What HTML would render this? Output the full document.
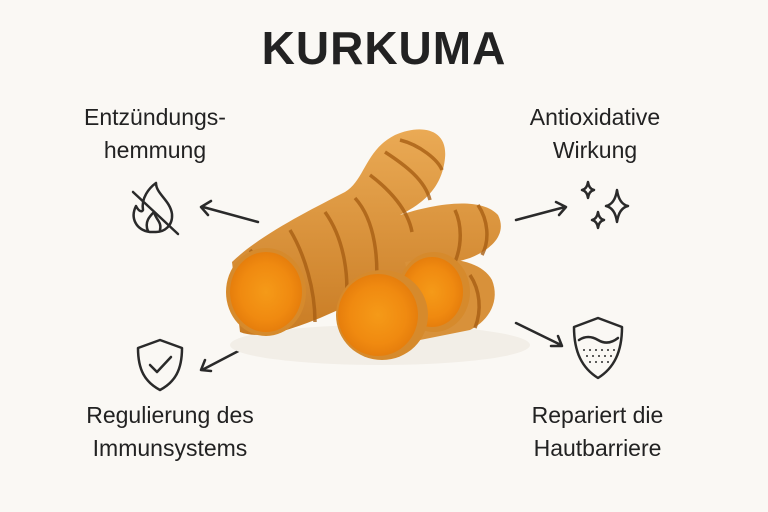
<!DOCTYPE html>
<html><head><meta charset="utf-8"><style>
body{margin:0;width:768px;height:512px;background:#faf8f4;overflow:hidden;font-family:"Liberation Sans",sans-serif;color:#222}
.t{position:absolute;text-align:center;font-size:23px;line-height:33px;color:#222}
</style></head><body>
<div class="t" style="left:184px;top:18px;width:400px;font-size:46px;font-weight:bold;line-height:60px;letter-spacing:1px">KURKUMA</div>
<div class="t" style="left:40px;top:101px;width:230px">Entzündungs-<br>hemmung</div>
<div class="t" style="left:480px;top:101px;width:230px">Antioxidative<br>Wirkung</div>
<div class="t" style="left:40px;top:399px;width:260px">Regulierung des<br>Immunsystems</div>
<div class="t" style="left:480px;top:399px;width:235px">Repariert die<br>Hautbarriere</div>
<svg width="768" height="512" style="position:absolute;left:0;top:0">
<defs>
<linearGradient id="sk" x1="0" y1="0" x2="0" y2="1"><stop offset="0" stop-color="#eaaa55"/><stop offset="1" stop-color="#c97c24"/></linearGradient>
<radialGradient id="cut"><stop offset="0" stop-color="#f59a18"/><stop offset="0.7" stop-color="#f08a10"/><stop offset="1" stop-color="#e67e0c"/></radialGradient>
</defs>
<g stroke="#2a2a2a" stroke-width="2.5" fill="none" stroke-linecap="round" stroke-linejoin="round">
<path d="M258 222 L203 207 M211 201 L201 207 L208 215"/>
<path d="M516 220 L565 207 M556 202 L566 207 L559 215"/>
<path d="M248 346 L202 370 M205 360 L201 370 L211 371"/>
<path d="M516 323 L561 345 M551 346 L562 346 L558 336"/>
<path d="M150 232 C136 230 130 218 136 206 C139 212 142 212 143 210 C141 198 149 188 156 183 C156 194 170 200 172 214 C173 226 164 232 156 232 Z"/>
<path d="M148 231 C144 222 150 216 154 212 C156 220 162 222 160 230"/>
<path d="M133 192 L178 234"/>
<path d="M617 190 Q619 204 628 206 Q619 208 617 222 Q615 208 606 206 Q615 204 617 190 Z"/>
<path d="M588 182 Q589 189 594 190 Q589 191 588 198 Q587 191 582 190 Q587 189 588 182 Z"/>
<path d="M598 212 Q599 219 604 220 Q599 221 598 228 Q597 221 592 220 Q597 219 598 212 Z"/>
<path d="M160 340 L182 348 C182 370 175 382 160 390 C145 382 138 370 138 348 Z"/>
<path d="M150 365 L157 372 L171 357"/>
<path d="M598 318 L622 327 C622 352 614 368 598 378 C582 368 574 352 574 327 Z"/>
<path d="M579 340 Q588 334 598 340 Q608 346 618 338"/>
</g>
<g fill="#2a2a2a">
<circle cx="584" cy="350" r="1"/><circle cx="590" cy="350" r="1"/><circle cx="596" cy="350" r="1"/><circle cx="602" cy="350" r="1"/><circle cx="608" cy="350" r="1"/><circle cx="614" cy="350" r="1"/>
<circle cx="587" cy="356" r="1"/><circle cx="593" cy="356" r="1"/><circle cx="599" cy="356" r="1"/><circle cx="605" cy="356" r="1"/><circle cx="611" cy="356" r="1"/>
<circle cx="590" cy="362" r="1"/><circle cx="596" cy="362" r="1"/><circle cx="602" cy="362" r="1"/><circle cx="608" cy="362" r="1"/>
</g>
<ellipse cx="380" cy="345" rx="150" ry="20" fill="#f2eee7"/>
<path d="M232 262 C260 235 310 210 345 192 C365 180 365 150 395 135 C420 124 448 128 445 158 C442 190 420 205 400 215 C430 205 480 195 498 215 C508 235 490 250 470 258 L430 270 C400 285 360 300 320 318 C290 330 260 340 240 332 Z" fill="url(#sk)"/>
<path d="M405 262 C440 255 480 258 492 280 C500 300 490 320 470 330 L420 340 Z" fill="#d8913a"/>
<g stroke="#a85f14" stroke-width="3.5" fill="none" opacity="0.8">
<path d="M290 230 C305 255 315 290 315 322"/>
<path d="M325 212 C345 240 350 280 345 310"/>
<path d="M355 198 C375 220 380 260 375 300"/>
<path d="M370 175 C390 190 408 210 412 232"/>
<path d="M385 152 C405 165 425 180 430 200"/>
<path d="M400 140 C420 145 438 160 442 170"/>
<path d="M455 210 C462 225 462 245 455 262"/>
<path d="M478 205 C488 220 490 240 482 255"/>
<path d="M250 250 C270 270 280 300 285 330"/>
<path d="M470 275 C480 290 482 310 475 328"/>
</g>
<ellipse cx="266" cy="292" rx="40" ry="44" fill="#d68a2c"/>
<ellipse cx="266" cy="292" rx="36" ry="40" fill="url(#cut)"/>
<ellipse cx="434" cy="292" rx="36" ry="40" fill="#d68a2c"/>
<ellipse cx="432" cy="292" rx="31" ry="35" fill="url(#cut)"/>
<ellipse cx="382" cy="315" rx="46" ry="45" fill="#d68a2c"/>
<ellipse cx="378" cy="315" rx="40" ry="41" fill="url(#cut)"/>
</svg>
</body></html>
